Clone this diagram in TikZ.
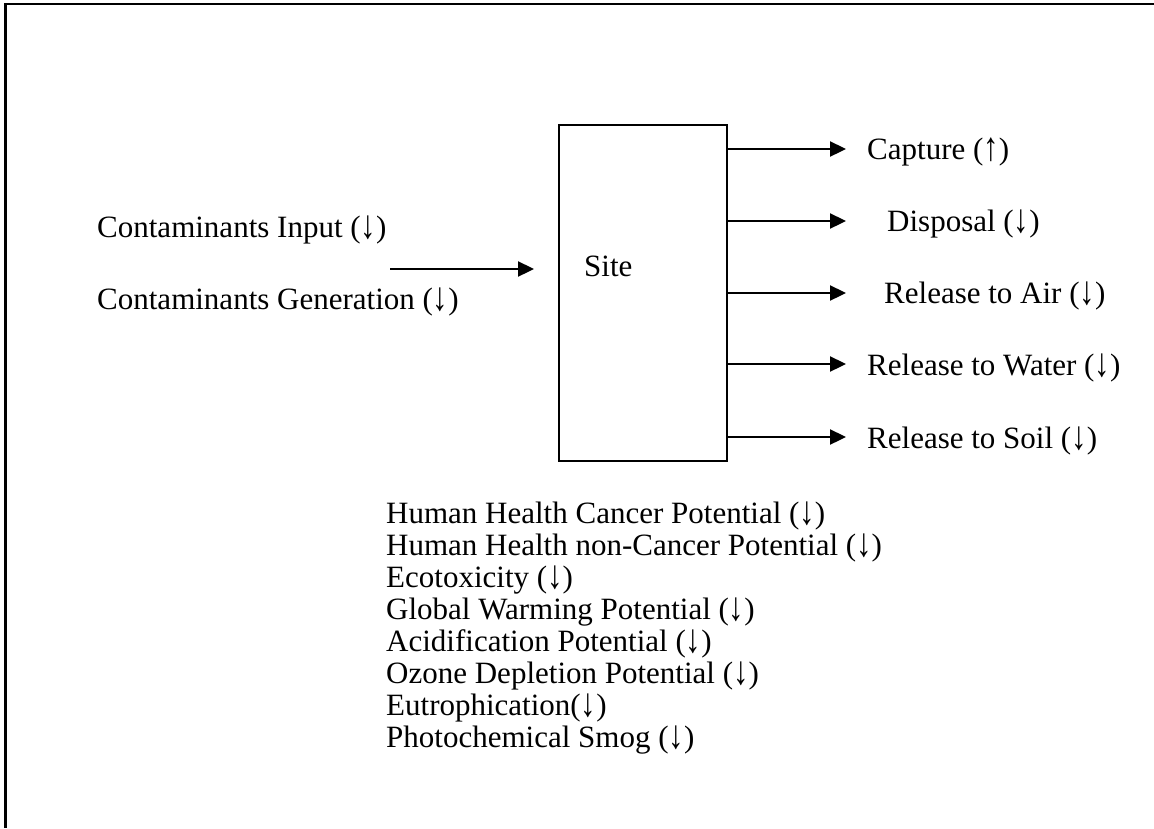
\documentclass[tikz,border=0pt]{standalone}
\usepackage{fontspec}
\usepackage{graphicx}
\setmainfont{Liberation Serif}
\usetikzlibrary{arrows.meta}
% slightly taller arrows inside the parentheses
\newcommand{\dnarr}{\raisebox{-0.04em}{\scalebox{1}[1.3]{↓}}}
\newcommand{\uparr}{\raisebox{-0.04em}{\scalebox{1}[1.3]{↑}}}
\begin{document}
\begin{tikzpicture}[x=1pt,y=-1pt,
  lbl/.style={anchor=base west,inner sep=0pt,text height=22pt,text depth=7pt,
    font=\fontsize{31}{32}\selectfont},
  flow/.style={line width=2.3pt,-{Triangle[length=16pt,width=15pt]}},
  frameline/.style={line width=2.2pt}]
  % page area
  \path[fill=white] (0,0) rectangle (1154,828);
  \useasboundingbox (0,0) rectangle (1154,828);
  % open frame: top and left sides
  \coordinate (frTL) at (5.5,4);
  \coordinate (frTR) at (1154,4);
  \coordinate (frBL) at (5.5,828);
  \draw[frameline] (frTR) -- (frTL) -- (frBL);

  % site box
  \node[draw,line width=2.4pt,minimum width=168pt,minimum height=336pt,inner sep=0pt] (site) at (643,293) {};
  \node[lbl] (siteLabel) at (584,276) {Site};

  % inputs
  \node[lbl] (cinput) at (97,237) {Contaminants Input (\dnarr)};
  \node[lbl] (cgen) at (97,309) {Contaminants Generation (\dnarr)};
  \coordinate (inA) at (390,269);
  \coordinate (inB) at (439,269);
  \coordinate (inC) at (534,269);
  \draw[line width=1.2pt] (inA) -- (inB);
  \draw[flow] (inB) -- (inC);

  % outputs
  \node[lbl] (capture) at (867,159) {Capture (\uparr)};
  \node[lbl] (disposal) at (887,231) {Disposal (\dnarr)};
  \node[lbl] (air) at (884,303) {Release to Air (\dnarr)};
  \node[lbl] (water) at (867,375) {Release to Water (\dnarr)};
  \node[lbl] (soil) at (867,448) {Release to Soil (\dnarr)};
  \foreach \n/\y in {capture/149,disposal/221,air/293,water/364,soil/437}{
    \coordinate (\n End) at (846,\y);
    \draw[flow] (site.east |- \n End) -- (\n End);
  }

  % impact categories
  \node[lbl] (i1) at (386,523) {Human Health Cancer Potential (\dnarr)};
  \node[lbl] (i2) at (386,555) {Human Health non-Cancer Potential (\dnarr)};
  \node[lbl] (i3) at (386,587) {Ecotoxicity (\dnarr)};
  \node[lbl] (i4) at (386,619) {Global Warming Potential (\dnarr)};
  \node[lbl] (i5) at (386,651) {Acidification Potential (\dnarr)};
  \node[lbl] (i6) at (386,683) {Ozone Depletion Potential (\dnarr)};
  \node[lbl] (i7) at (386,715) {Eutrophication(\dnarr)};
  \node[lbl] (i8) at (386,747) {Photochemical Smog (\dnarr)};
\end{tikzpicture}
\end{document}
